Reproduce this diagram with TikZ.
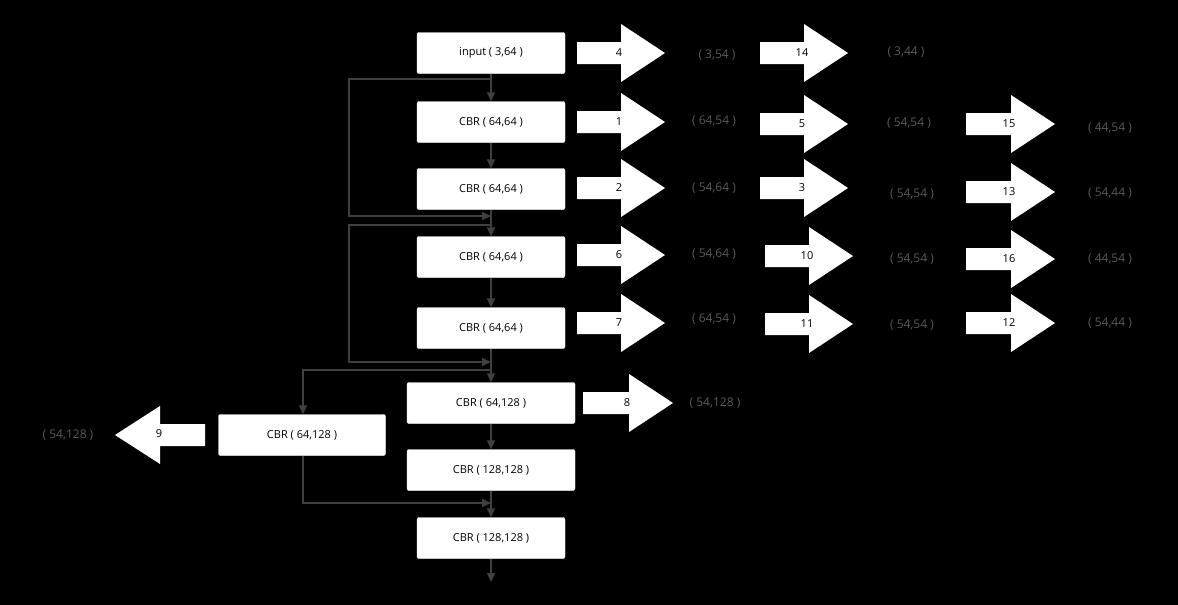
\documentclass[tikz,border=0pt]{standalone}
\usepackage{fontspec}
\setmainfont{Open Sans}
\usetikzlibrary{arrows.meta}
\definecolor{Wire}{HTML}{404040}
\definecolor{Dim}{HTML}{5A5A5A}
\tikzset{
  layer/.style={draw=white,fill=white,rounded corners=2pt,minimum height=41pt,
    font=\fontsize{11}{13}\selectfont},
  wire/.style={draw=Wire,line width=1.6pt,-{Triangle[length=9pt,width=8pt]}},
  dimlabel/.style={text=Dim,font=\fontsize{12}{14}\selectfont},
  numlabel/.style={font=\fontsize{11}{13}\selectfont}
}
% block arrow: start x, centre y, end x, number
\newcommand{\blockarrow}[4]{%
  \fill[white] (#1,#2-11) -- (#3-44,#2-11) -- (#3-44,#2-29) -- (#3,#2)
    -- (#3-44,#2+29) -- (#3-44,#2+11) -- (#1,#2+11) -- cycle;
  \node[numlabel] at (#3-46,#2) {#4};}
\begin{document}
\begin{tikzpicture}[x=1pt,y=-1pt]
  \fill[black] (0,0) rectangle (1178,605);
  \useasboundingbox (0,0) rectangle (1178,605);

  % main column
  \node[layer,minimum width=148pt] (in) at (491,53) {input ( 3,64 )};
  \node[layer,minimum width=148pt] (c1) at (491,122) {CBR ( 64,64 )};
  \node[layer,minimum width=148pt] (c2) at (491,189) {CBR ( 64,64 )};
  \node[layer,minimum width=148pt] (c3) at (491,257) {CBR ( 64,64 )};
  \node[layer,minimum width=148pt] (c4) at (491,328) {CBR ( 64,64 )};
  \node[layer,minimum width=168pt] (c5) at (491,403) {CBR ( 64,128 )};
  \node[layer,minimum width=168pt] (c6) at (491,470) {CBR ( 128,128 )};
  \node[layer,minimum width=148pt] (c7) at (491,538) {CBR ( 128,128 )};
  \node[layer,minimum width=167pt] (side) at (302,435) {CBR ( 64,128 )};
  \coordinate (out) at (491,582);

  \draw[wire] (in) -- (c1);
  \draw[wire] (c1) -- (c2);
  \draw[wire] (c2) -- (c3);
  \draw[wire] (c3) -- (c4);
  \draw[wire] (c4) -- (c5);
  \draw[wire] (c5) -- (c6);
  \draw[wire] (c6) -- (c7);
  \draw[wire] (c7) -- (out);

  % skip connections
  \draw[wire] (491,79) -- (349,79) -- (349,216) -- (491,216);
  \draw[wire] (491,225) -- (349,225) -- (349,362) -- (491,362);
  \draw[wire] (491,370) -- (303,370) -- (side.north -| 303,0);
  \draw[wire] (side.south -| 303,0) -- (303,503) -- (491,503);

  % block arrows and sizes
  \blockarrow{577}{53}{665}{4}     \node[dimlabel] (s4) at (717,55) {( 3,54 )};
  \blockarrow{760}{53}{848}{14}    \node[dimlabel] (s14) at (906,52) {( 3,44 )};
  \blockarrow{577}{122}{665}{1}    \node[dimlabel] (s1) at (714,121) {( 64,54 )};
  \blockarrow{760}{124}{848}{5}    \node[dimlabel] (s5) at (909,123) {( 54,54 )};
  \blockarrow{966}{124}{1055}{15}  \node[dimlabel] (s15) at (1110,128) {( 44,54 )};
  \blockarrow{577}{188}{665}{2}    \node[dimlabel] (s2) at (714,188) {( 54,64 )};
  \blockarrow{760}{188}{848}{3}    \node[dimlabel] (s3) at (912,194) {( 54,54 )};
  \blockarrow{966}{192}{1055}{13}  \node[dimlabel] (s13) at (1110,193) {( 54,44 )};
  \blockarrow{577}{255}{665}{6}    \node[dimlabel] (s6) at (714,254) {( 54,64 )};
  \blockarrow{765}{256}{853}{10}   \node[dimlabel] (s10) at (912,259) {( 54,54 )};
  \blockarrow{966}{259}{1055}{16}  \node[dimlabel] (s16) at (1110,259) {( 44,54 )};
  \blockarrow{577}{323}{665}{7}    \node[dimlabel] (s7) at (714,319) {( 64,54 )};
  \blockarrow{765}{324}{853}{11}   \node[dimlabel] (s11) at (912,325) {( 54,54 )};
  \blockarrow{966}{323}{1055}{12}  \node[dimlabel] (s12) at (1110,323) {( 54,44 )};
  \blockarrow{583}{403}{673}{8}    \node[dimlabel] (s8) at (715,403) {( 54,128 )};
  % leftward arrow
  \fill[white] (205,424) -- (160,424) -- (160,406) -- (115,435) -- (160,464)
    -- (160,446) -- (205,446) -- cycle;
  \node[numlabel] at (159,434) {9};
  \node[dimlabel] (s9) at (68,435) {( 54,128 )};
\end{tikzpicture}
\end{document}
